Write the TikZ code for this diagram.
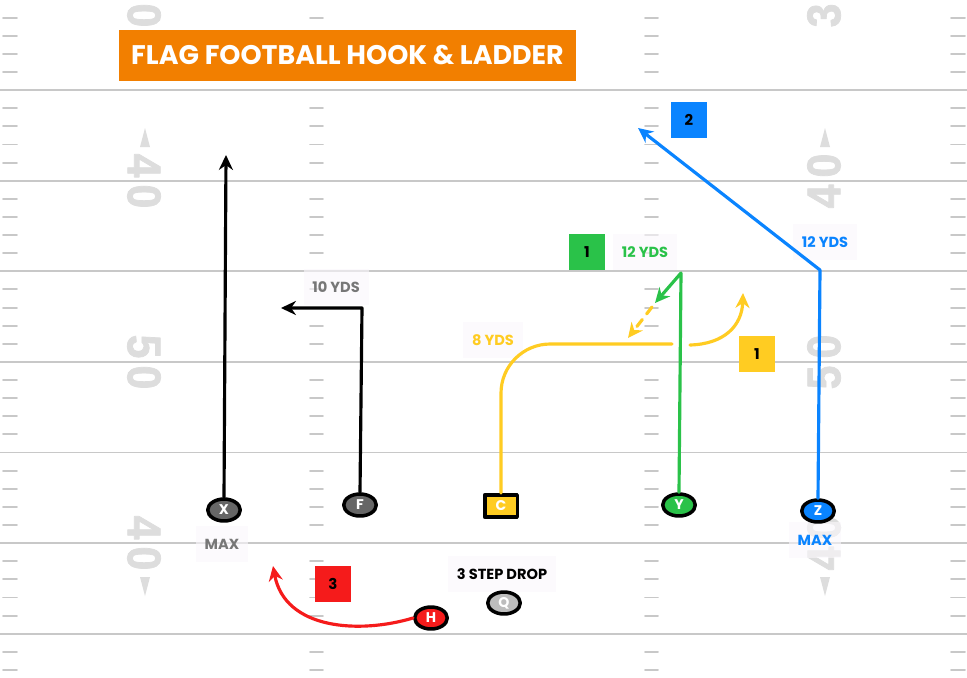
\documentclass[tikz,border=0pt]{standalone}
\usepackage{fontspec}
\setmainfont{Poppins}
\newfontfamily\yardfont[FakeStretch=0.9,LetterSpace=15,FakeBold=1.5]{Liberation Sans}
\usetikzlibrary{arrows.meta,shapes.geometric}
\definecolor{fieldline}{HTML}{C8C8C8}
\definecolor{yardnum}{HTML}{DDDDDD}
\definecolor{titleorange}{HTML}{F27F00}
\definecolor{routeyellow}{HTML}{FFCC22}
\definecolor{routegreen}{HTML}{2AC249}
\definecolor{routeblue}{HTML}{0A84FF}
\definecolor{routered}{HTML}{F51B1B}
\definecolor{playergray}{HTML}{666666}
\definecolor{qgray}{HTML}{BDBDBD}
\definecolor{labelgray}{HTML}{777777}
\definecolor{labelbg}{HTML}{FBF8FC}
\begin{document}
\begin{tikzpicture}[x=0.02cm,y=-0.02cm,line join=round,line cap=round,>={Stealth[length=8.5pt,width=8pt]},
	player/.style={ellipse,draw=black,line width=2pt,minimum width=18.5pt,minimum height=12.5pt,inner sep=0pt,text=white,font=\bfseries\fontsize{8}{8}\selectfont},
	numbox/.style={minimum size=20.5pt,inner sep=0pt,font=\bfseries\fontsize{8.5}{8.5}\selectfont},
	yds/.style={fill=labelbg,fill opacity=.6,text opacity=1,minimum height=20pt,inner xsep=5pt,font=\bfseries\fontsize{8.3}{8.3}\selectfont},
	route/.style={line width=1.8pt},
	yard/.style={text=yardnum,font=\yardfont\bfseries\fontsize{27}{27}\selectfont,inner sep=0pt},
	tick/.style={fieldline,line width=1.1pt}]
	\useasboundingbox[fill=white] (0,0) rectangle (967,677);
	\clip (0,0) rectangle (967,677);
	% field
	\foreach \n in {1,...,7} \draw[fieldline,line width=1.1pt] (0,{-0.5+90.6*\n}) -- (967,{-0.5+90.6*\n});
	\foreach \n in {0,...,7} \foreach \j in {1,2,3,4} {
		\draw[tick] (3,{-0.5+90.6*\n+18.12*\j}) -- (17,{-0.5+90.6*\n+18.12*\j});
		\draw[tick] (310,{-0.5+90.6*\n+18.12*\j}) -- (323,{-0.5+90.6*\n+18.12*\j});
		\draw[tick] (645,{-0.5+90.6*\n+18.12*\j}) -- (658,{-0.5+90.6*\n+18.12*\j});
		\draw[tick] (951,{-0.5+90.6*\n+18.12*\j}) -- (965,{-0.5+90.6*\n+18.12*\j});
	}
	\foreach \y/\t in {0/30,181/40,362/50,543/40} {
		\node[yard,rotate=-90] at (144,\y) {\t};
		\node[yard,rotate=90] at (824,\y) {\t};
	}
	\foreach \x in {145,825} {
		\fill[yardnum] (\x-5,147) -- (\x,128) -- (\x+5,147) -- cycle;
		\fill[yardnum] (\x-5,577) -- (\x,596) -- (\x+5,577) -- cycle;
	}
	% title
	\node[fill=titleorange,text=white,minimum width=260pt,minimum height=28.9pt,inner sep=0pt,font=\bfseries\fontsize{15.3}{15.3}\selectfont] (title) at (347.5,55.5) {FLAG FOOTBALL HOOK \& LADDER};
	% labels
	\node[yds,text=labelgray] (maxX) at (222,544) {MAX};
	\node[yds,text=routeblue] (maxZ) at (815,540) {MAX};
	\node[yds] (drop) at (502,574) {3 STEP DROP};
	\node[yds,text=labelgray] (ydsF) at (336,287) {10 YDS};
	\node[yds,text=routegreen] (ydsY) at (645,252) {12 YDS};
	\node[yds,text=routeblue] (ydsZ) at (825,242) {12 YDS};
	\node[yds,text=routeyellow] (ydsC) at (493,340) {8 YDS};
	\node[numbox,fill=routegreen] (numY) at (587,252) {1};
	\node[numbox,fill=routeblue] (numZ) at (689,120) {2};
	\node[numbox,fill=routeyellow] (numC) at (757,354) {1};
	\node[numbox,fill=routered] (numH) at (333,584) {3};
	% players
	\node[player,fill=playergray] (X) at (224,510) {X};
	\node[player,fill=playergray] (F) at (360,505) {F};
	\node[draw=black,line width=2pt,fill=routeyellow,minimum width=18.5pt,minimum height=12.8pt,inner sep=0pt,text=white,font=\bfseries\fontsize{8}{8}\selectfont] (C) at (501,506) {C};
	\node[player,fill=routegreen] (Y) at (679,505) {Y};
	\node[player,fill=routeblue] (Z) at (818,511) {Z};
	\node[player,fill=routered] (H) at (431,618) {H};
	\node[player,fill=qgray] (Q) at (504,603) {Q};
	% routes
	\coordinate (endX) at (226,155);
	\coordinate (turnF) at (362,308);
	\coordinate (endF) at (281,308);
	\coordinate (hookC) at (672,344);
	\coordinate (outC) at (690,345);
	\coordinate (endC) at (743,293);
	\coordinate (fakeC) at (652,307);
	\coordinate (tipC) at (628,338);
	\coordinate (turnY) at (681,273);
	\coordinate (endY) at (655,303);
	\coordinate (turnZ) at (820,270);
	\coordinate (endZ) at (638,128);
	\coordinate (endH) at (273,566);
	\draw[route,->] (X.north) -- (endX);
	\draw[route,->] (F.north) -- (turnF) -- (endF);
	\draw[route,routeyellow,rounded corners=28pt] (C.north) |- (hookC);
	\draw[route,routeyellow,->] (outC) .. controls (725,344) and (742,325) .. (endC);
	\draw[route,routeyellow,dash pattern=on 5pt off 4pt,->] (fakeC) -- (tipC);
	\draw[route,routegreen,->] (Y.north) -- (turnY) -- (endY);
	\draw[route,routeblue,->] (Z.north) -- (turnZ) -- (endZ);
	\draw[route,routered,->] (H.west) .. controls (360,634) and (285,630) .. (endH);
\end{tikzpicture}
\end{document}
